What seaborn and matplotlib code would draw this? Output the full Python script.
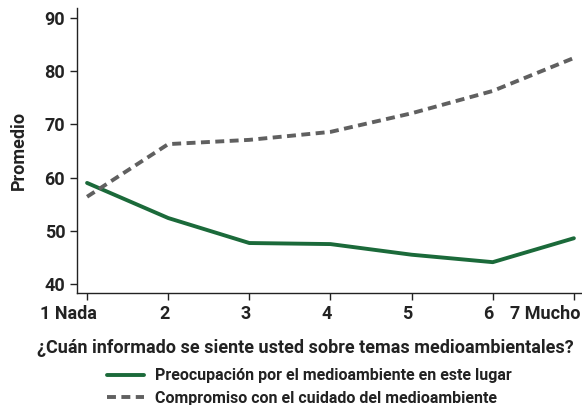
import matplotlib
matplotlib.use("Agg")
import matplotlib.pyplot as plt
import matplotlib.transforms as mtransforms
import seaborn as sns
import pandas as pd
from matplotlib.lines import Line2D

sns.set_style("ticks")
fam = "Roboto"
plt.rcParams['font.family'] = [fam, 'DejaVu Sans']

x_vals = [1, 2, 3, 4, 5, 6, 7]
x_labels = ["1 Nada", "2", "3", "4", "5", "6", "7 Mucho"]
preocupacion = [59.0, 52.4, 47.7, 47.5, 45.5, 44.1, 48.6]
compromiso = [56.4, 66.3, 67.1, 68.6, 72.1, 76.3, 82.5]
series_names = ["Preocupación por el medioambiente en este lugar",
                "Compromiso con el cuidado del medioambiente"]

df = pd.DataFrame({
    "x": x_vals * 2,
    "y": preocupacion + compromiso,
    "serie": [series_names[0]] * 7 + [series_names[1]] * 7,
})

fig = plt.figure(figsize=(5.82, 4.05), dpi=100)
ax = fig.add_axes([77/582, 1 - 293/405, (582 - 77)/582, (293 - 8)/405])

sns.lineplot(data=df, x="x", y="y", hue="serie", style="serie",
             palette=["#1b6a3a", "#606060"],
             dashes=[(None, None), (2.3, 1.4)], linewidth=2.8, ax=ax,
             legend=False)
ax.lines[0].set_linestyle('-')
ax.lines[1].set_dashes((2.3, 1.4))

ax.set_xlim(0.876, 7.1)
ax.set_ylim(38.3, 91.9)
ax.set_xticks(x_vals)
ax.set_xticklabels(x_labels)
ax.set_yticks([40, 50, 60, 70, 80, 90])
for s in ["top", "right"]:
    ax.spines[s].set_visible(False)
for s in ["left", "bottom"]:
    ax.spines[s].set_color("#222222")
    ax.spines[s].set_linewidth(1.0)
ax.tick_params(axis="both", labelsize=13, length=5, width=1, color="#222222", labelcolor="#222222")
for lab in ax.get_xticklabels() + ax.get_yticklabels():
    lab.set_fontweight("bold")

# horizontal offsets of the x tick labels, as in the reference
xlabs = ax.get_xticklabels()
offsets = [-19, -4, -4, -4, -4, -4, 7]
for lab, dx in zip(xlabs, offsets):
    lab.set_transform(lab.get_transform() + mtransforms.ScaledTranslation(dx / 100, 0, fig.dpi_scale_trans))
xlabs[-1].set_horizontalalignment("right")

ax.set_ylabel("Promedio", fontsize=13, fontweight="bold", color="#222222", labelpad=12)
ax.set_xlabel("¿Cuán informado se siente usted sobre temas medioambientales?",
              fontsize=13, fontweight="bold", color="#222222", labelpad=12)
ax.xaxis.set_label_coords(305/582, 1 - 348/405, transform=fig.transFigure)
ax.xaxis.label.set_va("center")

handles = [Line2D([], [], color="#1b6a3a", lw=2.8),
           Line2D([], [], color="#606060", lw=2.8, dashes=(2.3, 1.4))]
fig.legend(handles, series_names, loc="center left", bbox_to_anchor=(107/582, 1 - 387/405),
           frameon=False, prop={"family": fam, "weight": "bold", "size": 11.5},
           handlelength=2.3, labelspacing=0.45, handletextpad=0.7, labelcolor="#222222",
           borderpad=0, borderaxespad=0)

fig.savefig("out.png", dpi=100)
